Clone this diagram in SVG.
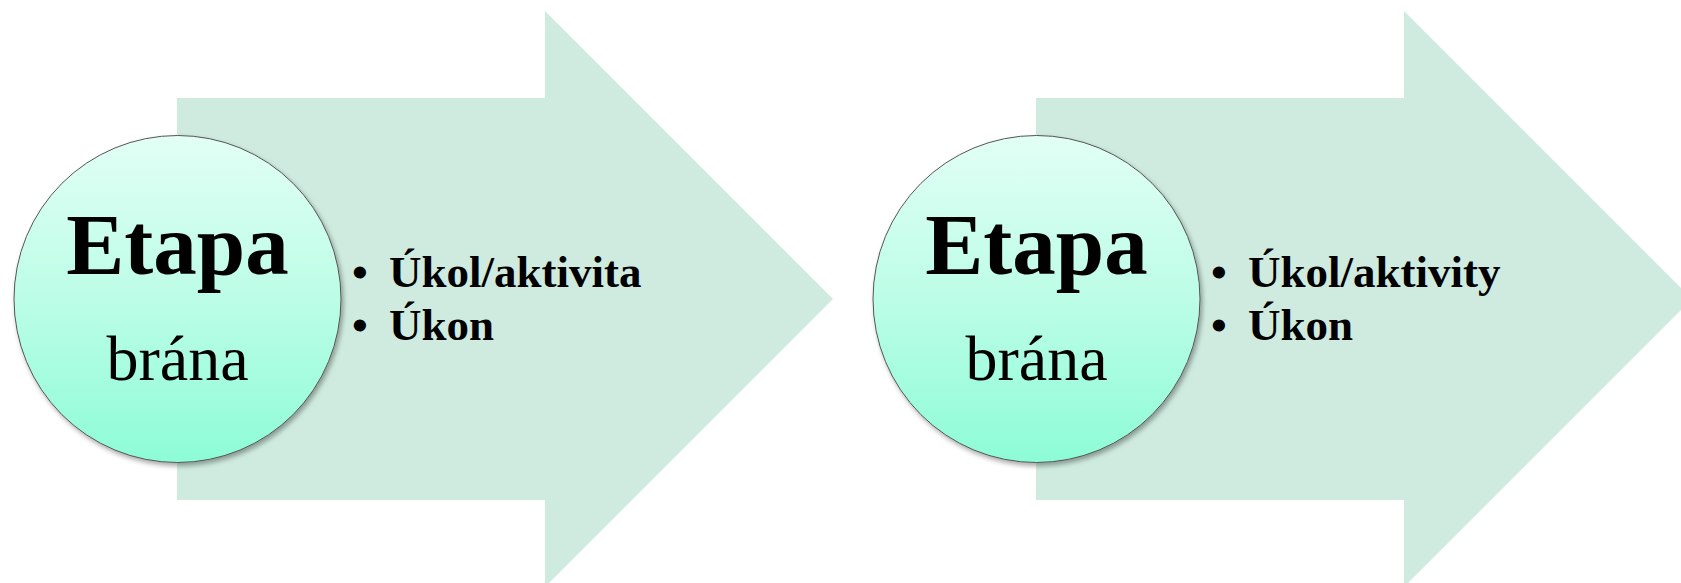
<svg xmlns="http://www.w3.org/2000/svg" width="1681" height="583" viewBox="0 0 1681 583">
<defs>
<linearGradient id="cg" x1="0" y1="0" x2="0" y2="1">
<stop offset="0" stop-color="#E2FFF5"/>
<stop offset="0.5" stop-color="#BCFDE6"/>
<stop offset="1" stop-color="#8DFCD7"/>
</linearGradient>
<filter id="sh" x="-10%" y="-10%" width="125%" height="125%">
<feDropShadow dx="2" dy="3" stdDeviation="2.5" flood-color="#000" flood-opacity="0.35"/>
</filter>
</defs>
<style>
.arrow{fill:#CFEBDF;}
.circ{fill:url(#cg);stroke:#555;stroke-width:1;filter:url(#sh);}
.title{font-family:"Liberation Serif","Times New Roman",serif;font-weight:bold;font-size:87px;fill:#000;text-anchor:middle;}
.sub{font-family:"Liberation Serif","Times New Roman",serif;font-size:64px;fill:#000;text-anchor:middle;}
.item{font-family:"Liberation Serif","Times New Roman",serif;font-weight:bold;font-size:45px;fill:#000;}
</style>
<rect width="1681" height="583" fill="#fff"/>
<g id="stage1">
<polygon class="arrow" points="177,98 545,98 545,11 833,299 545,587 545,500 177,500"/>
<circle class="circ" cx="177.5" cy="299" r="163.5"/>
<text class="title" x="177.5" y="274">Etapa</text>
<text class="sub" x="177.5" y="380">brána</text>
<text class="item" x="352" y="287">•</text>
<text class="item" x="389" y="287">Úkol/aktivita</text>
<text class="item" x="352" y="340">•</text>
<text class="item" x="389" y="340">Úkon</text>
</g>
<g id="stage2">
<polygon class="arrow" points="1036,98 1404,98 1404,11 1692,299 1404,587 1404,500 1036,500"/>
<circle class="circ" cx="1036.5" cy="299" r="163.5"/>
<text class="title" x="1036.5" y="274">Etapa</text>
<text class="sub" x="1036.5" y="380">brána</text>
<text class="item" x="1211" y="287">•</text>
<text class="item" x="1248" y="287">Úkol/aktivity</text>
<text class="item" x="1211" y="340">•</text>
<text class="item" x="1248" y="340">Úkon</text>
</g>
<g id="connectors"></g>
</svg>
